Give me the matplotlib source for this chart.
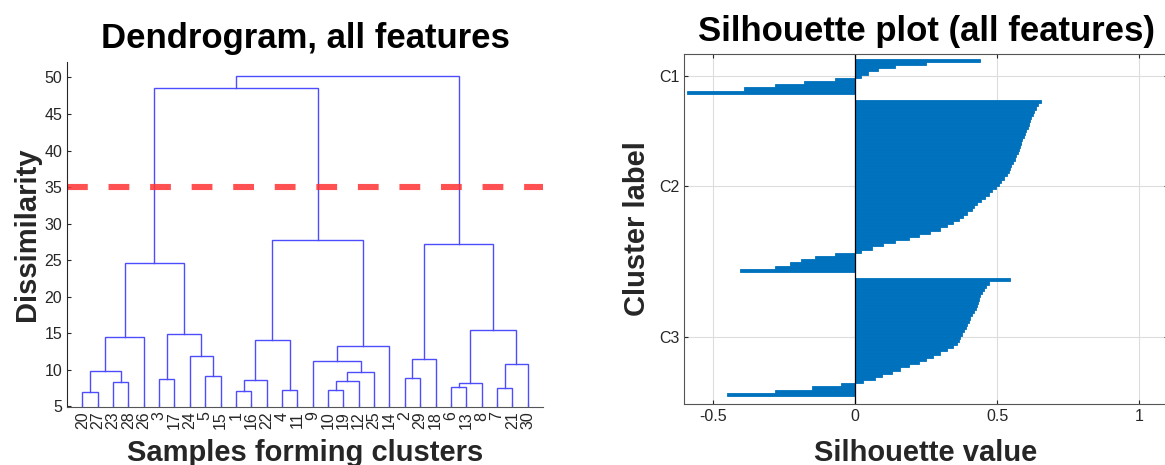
from matplotlib import pyplot as plt
import numpy as np

plt.rcParams['font.family'] = ['Liberation Sans', 'DejaVu Sans']

# dendrogram data (MATLAB linkage style: leaves 1..30, nodes 31..59)
leaf_order = [20, 27, 23, 28, 26, 3, 17, 24, 5, 15, 1, 16, 22, 4, 11,
              9, 10, 19, 12, 25, 14, 2, 29, 18, 6, 13, 8, 7, 21, 30]
merge_a = [20, 1, 10, 4, 7, 6, 36, 23, 33, 32, 3, 2, 5, 39, 31,
           35, 9, 42, 24, 47, 40, 45, 41, 37, 52, 48, 51, 55, 58]
merge_b = [27, 16, 19, 11, 21, 13, 8, 28, 12, 22, 17, 29, 15, 25, 38,
           30, 44, 18, 43, 14, 34, 26, 49, 46, 53, 54, 50, 57, 56]
merge_h = [6.9, 7.05, 7.2, 7.3, 7.5, 7.7, 8.25, 8.3, 8.5, 8.65, 8.7, 8.9, 9.2, 9.65, 9.9,
           10.75, 11.15, 11.5, 11.9, 13.3, 14.1, 14.5, 14.9, 15.45, 24.6, 27.25, 27.7, 48.5, 50.2]
cut_level = 35

# silhouette values, sorted within each cluster
c1_vals = [0.44, 0.25, 0.14, 0.08, 0.045, 0.02, -0.07, -0.18, -0.28, -0.39, -0.59]
c2_vals = [0.655, 0.645, 0.635, 0.63, 0.625, 0.62, 0.617, 0.613, 0.608, 0.603,
           0.598, 0.593, 0.588, 0.584, 0.58, 0.576, 0.572, 0.568, 0.563, 0.557,
           0.55, 0.545, 0.54, 0.533, 0.524, 0.515, 0.505, 0.495, 0.483, 0.47,
           0.456, 0.443, 0.43, 0.42, 0.41, 0.395, 0.38, 0.365, 0.345, 0.325,
           0.30, 0.265, 0.225, 0.19, 0.14, 0.10, 0.06, 0.02, -0.07, -0.14,
           -0.19, -0.23, -0.28, -0.405]
c3_vals = [0.546, 0.47, 0.46, 0.452, 0.446, 0.44, 0.436, 0.432, 0.428, 0.424,
           0.418, 0.412, 0.405, 0.40, 0.395, 0.39, 0.383, 0.376, 0.37, 0.365,
           0.36, 0.345, 0.325, 0.30, 0.275, 0.25, 0.225, 0.19, 0.16, 0.13,
           0.095, 0.07, 0.03, -0.05, -0.15, -0.28, -0.45]
cluster_names = ['C1', 'C2', 'C3']

txt = '#262626'
fig = plt.figure(figsize=(11.65, 4.65), dpi=100)

# ---- dendrogram
ax1 = fig.add_axes([0.0575, 0.1254, 0.4086, 0.741])
xpos = {}
ypos = {}
for i, lf in enumerate(leaf_order):
    xpos[lf] = i + 1
    ypos[lf] = 0
n = len(leaf_order)
for k in range(len(merge_h)):
    a = merge_a[k]
    b = merge_b[k]
    h = merge_h[k]
    ax1.plot([xpos[a], xpos[a], xpos[b], xpos[b]], [ypos[a], h, h, ypos[b]],
             color='#4d4dff', lw=1.0, solid_joinstyle='miter')
    xpos[n + k + 1] = (xpos[a] + xpos[b]) / 2
    ypos[n + k + 1] = h
ax1.axhline(cut_level, color='#ff3333', alpha=0.85, lw=4.4, linestyle=(0, (3.4, 3.4)))
ax1.set_xlim(0, n + 1)
ax1.set_ylim(4.95, 52.1)
ax1.set_yticks(np.arange(5, 51, 5))
ax1.set_xticks(np.arange(1, n + 1))
ax1.set_xticklabels([str(v) for v in leaf_order], rotation=90)
ax1.tick_params(direction='in', length=3, colors=txt, labelsize=11.5, width=0.8)
ax1.spines['top'].set_visible(False)
ax1.spines['right'].set_visible(False)
ax1.spines['left'].set_color(txt)
ax1.spines['bottom'].set_color('#555555')
ax1.set_title('Dendrogram, all features', fontsize=25, fontweight='bold', pad=10)
ax1.set_ylabel('Dissimilarity', fontsize=21, fontweight='bold', color=txt, labelpad=2)
ax1.set_xlabel('Samples forming clusters', fontsize=21, fontweight='bold', color=txt, labelpad=7)

# ---- silhouette
ax2 = fig.add_axes([0.5874, 0.1312, 0.415, 0.7527])
space = 2
rows = []
vals = []
ticks = []
start = 1 + space
for cv in [c1_vals, c2_vals, c3_vals]:
    r = np.arange(start, start + len(cv))
    rows.extend(r)
    vals.extend(cv)
    ticks.append((r[0] + r[-1]) / 2)
    start = start + len(cv) + space
total = start
ax2.barh(rows, vals, height=1.0, color='#0072BD', edgecolor='#0072BD', linewidth=0.6)
ax2.axvline(0, color='k', lw=0.9)
ax2.set_xlim(-0.6, 1.1)
ax2.set_ylim(total, 1)
ax2.set_yticks(ticks)
ax2.set_yticklabels(cluster_names)
ax2.set_xticks([-0.5, 0, 0.5, 1])
ax2.set_xticklabels(['-0.5', '0', '0.5', '1'])
ax2.grid(True, color='#dddddd', lw=0.8)
ax2.set_axisbelow(True)
ax2.tick_params(direction='in', length=3, colors=txt, labelsize=11.5, width=0.8,
                top=True, right=True)
for s in ax2.spines.values():
    s.set_color('#555555')
ax2.set_title('Silhouette plot (all features)', fontsize=25, fontweight='bold', pad=9)
ax2.set_ylabel('Cluster label', fontsize=21, fontweight='bold', color=txt, labelpad=6)
ax2.set_xlabel('Silhouette value', fontsize=21, fontweight='bold', color=txt, labelpad=11)

plt.savefig('out.png', dpi=100)
